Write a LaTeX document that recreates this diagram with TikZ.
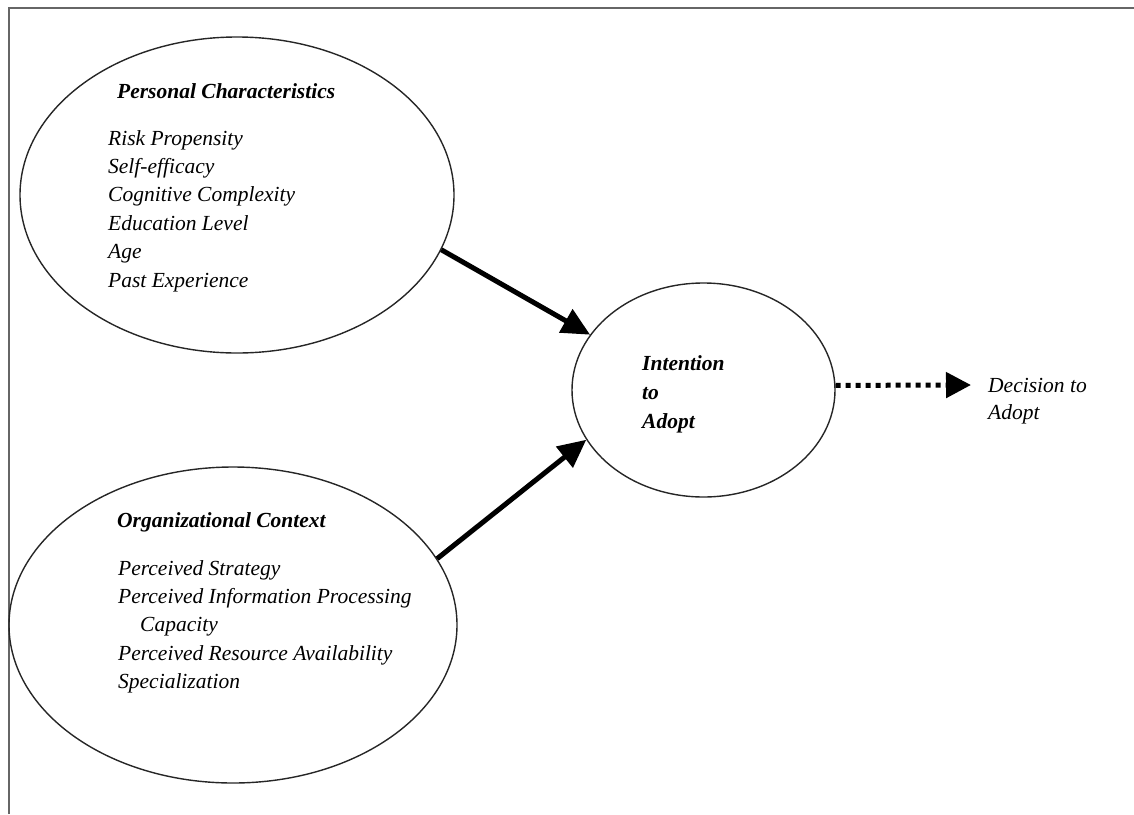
\documentclass[tikz,border=0pt]{standalone}
\usepackage{fontspec}
\setmainfont{Liberation Serif}
\usetikzlibrary{arrows.meta,shapes.geometric}
\begin{document}
\begin{tikzpicture}[x=1pt,y=-1pt,
  bubble/.style={draw=black!85, line width=1.4pt, ellipse, inner sep=0pt},
  txt/.style={anchor=base west, inner sep=0pt, font=\fontsize{21.5}{28}\selectfont\itshape},
  head/.style={anchor=base west, inner sep=0pt, font=\fontsize{21.5}{28}\selectfont\bfseries\itshape},
  link/.style={line width=5pt, -{Triangle[length=28pt,width=26pt]}},
  dotlink/.style={line width=5pt, dash pattern=on 5pt off 5pt, -{Triangle[length=25pt,width=25pt]}}]
\useasboundingbox (0,0) rectangle (1134,814);

% open frame: left and top rules only
\draw[line width=2pt, draw=black!60] (9,814) -- (9,8) -- (1134,8);

% the three constructs
\node[bubble, minimum width=434pt, minimum height=316pt] (pc) at (237,195) {};
\node[bubble, minimum width=448pt, minimum height=316pt] (oc) at (233,625) {};
\node[bubble, minimum width=263pt, minimum height=214pt] (ia) at (703.5,390) {};

% personal characteristics
\node[head] (pch) at (117,98) {Personal Characteristics};
\node[txt] (pc1) at (108,145) {Risk Propensity};
\node[txt] (pc2) at (108,173.4) {Self-efficacy};
\node[txt] (pc3) at (108,201.8) {Cognitive Complexity};
\node[txt] (pc4) at (108,230.2) {Education Level};
\node[txt] (pc5) at (108,258.6) {Age};
\node[txt] (pc6) at (108,287) {Past Experience};

% organizational context
\node[head] (och) at (117,527) {Organizational Context};
\node[txt] (oc1) at (118,575) {Perceived Strategy};
\node[txt] (oc2) at (118,603.4) {Perceived Information Processing};
\node[txt] (oc3) at (140,631.8) {Capacity};
\node[txt] (oc4) at (118,660.2) {Perceived Resource Availability};
\node[txt] (oc5) at (118,688.6) {Specialization};

% intention to adopt
\node[head] (ia1) at (642,370) {Intention};
\node[head] (ia2) at (642,399) {to};
\node[head] (ia3) at (642,428) {Adopt};

% decision to adopt
\node[txt] (da1) at (988,392) {Decision to};
\node[txt] (da2) at (988,419) {Adopt};
\coordinate (dend) at (971,385);

% relations
\draw[link] (pc.-15.3) -- (ia.154.7);
\draw[link] (oc.18.4) -- (ia.-157.2);
\draw[dotlink] (ia.2) -- (dend);
\end{tikzpicture}
\end{document}
